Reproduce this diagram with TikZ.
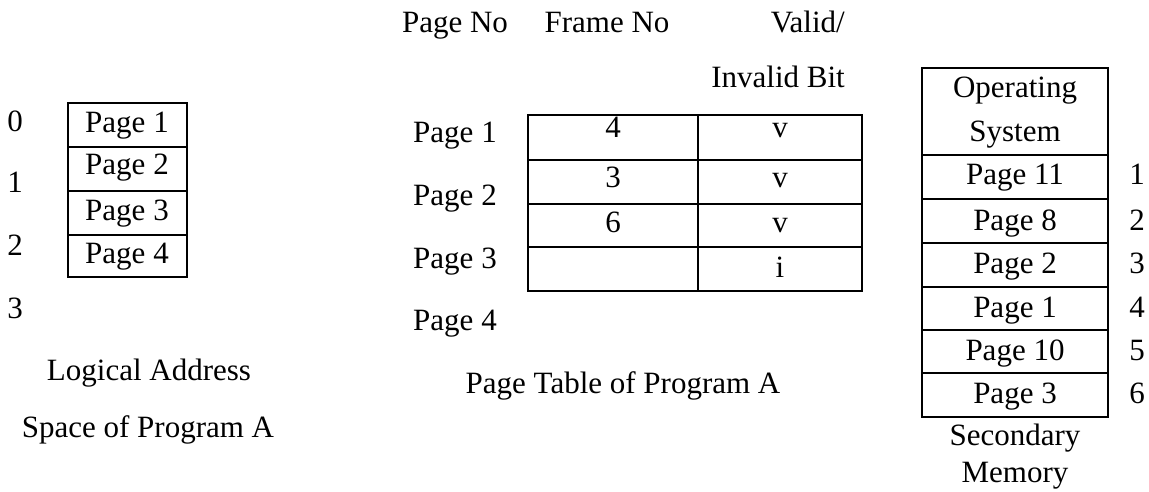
\documentclass[tikz,border=0pt]{standalone}
\usepackage{fontspec}
\setmainfont{Liberation Serif}
\tikzset{
  lbl/.style={anchor=base,inner sep=0pt,font=\fontsize{31}{37}\selectfont},
  cell/.style={line width=2pt}
}
\begin{document}
\begin{tikzpicture}[x=1pt,y=-1pt]

        \useasboundingbox (0,0) rectangle (1149,492);

        % Logical address space
        \draw[cell] (68,103) rectangle (187,277);
        \draw[cell] (68,147) -- (187,147);
        \draw[cell] (68,191) -- (187,191);
        \draw[cell] (68,235) -- (187,235);
        \node[lbl] (lp1) at (127,133) {Page 1};
        \node[lbl] (lp2) at (127,175) {Page 2};
        \node[lbl] (lp3) at (127,220) {Page 3};
        \node[lbl] (lp4) at (127,263) {Page 4};
        \node[lbl] (la0) at (15,132) {0};
        \node[lbl] (la1) at (15,193) {1};
        \node[lbl] (la2) at (15,255) {2};
        \node[lbl] (la3) at (15,318) {3};
        \node[lbl] (ltitle1) at (149,380) {Logical Address};
        \node[lbl] (ltitle2) at (148,437) {Space of Program A};

        % Page table
        \node[lbl] (hpage) at (455,33) {Page No};
        \node[lbl] (hframe) at (607,33) {Frame No};
        \node[lbl,anchor=base east] (hvalid) at (845,33) {Valid/};
        \node[lbl,anchor=base east] (hinvalid) at (845,88) {Invalid Bit};
        \draw[cell] (528,115) rectangle (862,291);
        \draw[cell] (698,115) -- (698,291);
        \draw[cell] (528,160) -- (862,160);
        \draw[cell] (528,204) -- (862,204);
        \draw[cell] (528,247) -- (862,247);
        \node[lbl] (tp1) at (455,143) {Page 1};
        \node[lbl] (tp2) at (455,205) {Page 2};
        \node[lbl] (tp3) at (455,268) {Page 3};
        \node[lbl] (tp4) at (455,330) {Page 4};
        \node[lbl] (fr1) at (613,138) {4};
        \node[lbl] (fr2) at (613,188) {3};
        \node[lbl] (fr3) at (613,232) {6};
        \node[lbl] (vb1) at (780,138) {v};
        \node[lbl] (vb2) at (780,188) {v};
        \node[lbl] (vb3) at (780,232) {v};
        \node[lbl] (vb4) at (780,277) {i};
        \node[lbl] (ttitle) at (623,393) {Page Table of Program A};

        % Secondary memory
        \draw[cell] (922,68) rectangle (1108,417);
        \draw[cell] (922,155) -- (1108,155);
        \draw[cell] (922,199) -- (1108,199);
        \draw[cell] (922,243) -- (1108,243);
        \draw[cell] (922,287) -- (1108,287);
        \draw[cell] (922,330) -- (1108,330);
        \draw[cell] (922,373) -- (1108,373);
        \node[lbl] (os1) at (1015,98) {Operating};
        \node[lbl] (os2) at (1015,142) {System};
        \node[lbl] (sm1) at (1015,185) {Page 11};
        \node[lbl] (sm2) at (1015,230) {Page 8};
        \node[lbl] (sm3) at (1015,273) {Page 2};
        \node[lbl] (sm4) at (1015,317) {Page 1};
        \node[lbl] (sm5) at (1015,360) {Page 10};
        \node[lbl] (sm6) at (1015,403) {Page 3};
        \node[lbl] (fn1) at (1137,185) {1};
        \node[lbl] (fn2) at (1137,230) {2};
        \node[lbl] (fn3) at (1137,273) {3};
        \node[lbl] (fn4) at (1137,317) {4};
        \node[lbl] (fn5) at (1137,360) {5};
        \node[lbl] (fn6) at (1137,403) {6};
        \node[lbl] (stitle1) at (1015,445) {Secondary};
        \node[lbl] (stitle2) at (1015,482) {Memory};

    \end{tikzpicture}
\end{document}
